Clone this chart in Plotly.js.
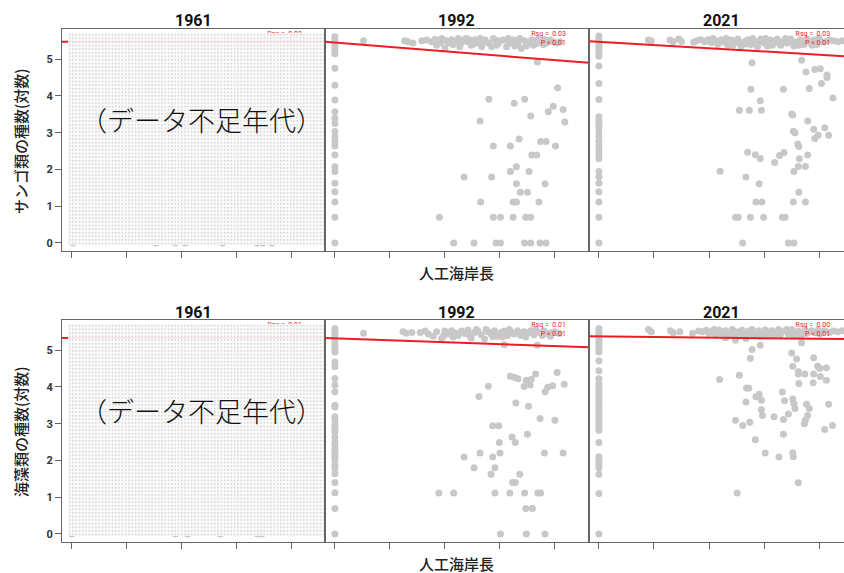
<!DOCTYPE html>
<html><head><meta charset="utf-8">
<script src="https://cdn.plot.ly/plotly-3.0.1.min.js"></script>
<style>html,body{margin:0;padding:0;background:#fff}#chart{width:844px;height:573px}</style>
</head><body><div id="chart"></div>
<script>
// ---------------- data (x: 人工海岸長, y: ln 種数) ----------------
const years = ["1961", "1992", "2021"];
const xTicks = [0, 1, 2, 3, 4];
const yTicks = [0, 1, 2, 3, 4, 5];
const rowTitles = ["サンゴ類の種数(対数)", "海藻類の種数(対数)"];
const xTitle = "人工海岸長";
const shortageLabel = "（データ不足年代）";

// coral (サンゴ類)
const coral1961 = [[0.02,0],[1.53,0],[1.89,0],[2.07,0],[2.75,0],[3.38,0],[3.49,0],[3.65,0]];
const coral1992 = [
 [0,5.61],[0,5.52],[0,5.43],[0,5.34],[0,5.25],[0,5.15],[0,4.75],[0,4.29],[0,3.89],[0,3.57],[0,3.39],[0,3.25],
 [0,3.03],[0,2.89],[0,2.75],[0,2.64],[0,2.39],[0,2.07],[0,1.94],[0,1.62],[0,1.39],[0,1.11],[0,0.70],[0,0],
 [0.52,5.50],[1.27,5.50],[1.33,5.47],[1.42,5.44],[1.58,5.50],[1.67,5.52],[1.76,5.47],[1.82,5.54],[1.85,5.38],
 [1.92,5.44],[1.94,5.56],[1.97,5.52],[2.00,5.29],[2.03,5.50],[2.06,5.44],[2.12,5.53],[2.15,5.40],[2.18,5.47],
 [2.24,5.56],[2.27,5.34],[2.30,5.44],[2.33,5.52],[2.39,5.56],[2.42,5.47],[2.45,5.52],[2.48,5.38],[2.52,5.41],
 [2.55,5.53],[2.61,5.44],[2.64,5.56],[2.67,5.34],[2.70,5.47],[2.73,5.52],[2.79,5.44],[2.85,5.34],[2.88,5.56],
 [2.91,5.53],[2.94,5.38],[2.97,5.43],[3.00,5.50],[3.06,5.52],[3.12,5.34],[3.15,5.56],[3.18,5.44],[3.24,5.53],
 [3.27,5.36],[3.30,5.50],[3.33,5.41],[3.36,5.56],[3.39,5.29],[3.45,5.50],[3.48,5.36],[3.52,5.43],[3.55,5.47],
 [3.58,5.52],[3.61,5.38],[3.67,5.43],[3.70,5.55],[3.76,5.47],[3.79,5.40],[3.82,5.53],[3.85,5.44],[3.91,5.52],
 [3.97,5.47],[4.03,5.44],[4.09,5.47],
 [3.68,4.92],[4.05,4.22],[2.80,3.91],[3.26,3.80],[3.45,3.91],[3.97,3.72],[3.88,3.57],[4.15,3.63],[3.56,3.45],
 [4.18,3.29],[2.64,3.32],[3.35,2.83],[3.74,2.76],[3.84,2.76],[2.88,2.64],[3.19,2.64],[4.01,2.64],[3.58,2.39],
 [3.67,2.39],[3.30,2.07],[3.19,1.94],[3.53,1.94],[2.35,1.79],[2.85,1.79],[3.30,1.61],[3.82,1.61],[3.37,1.38],
 [3.50,1.38],[2.65,1.11],[3.24,1.11],[3.30,1.11],[3.71,1.11],[1.90,0.70],[2.88,0.70],[3.01,0.70],[3.24,0.70],
 [3.47,0.70],[3.56,0.70],[2.16,0],[2.53,0],[2.93,0],[3.01,0],[3.45,0],[3.56,0],[3.73,0],[3.84,0]
];
const coral2021 = [
 [0,5.63],[0,5.53],[0,5.44],[0,5.35],[0,5.26],[0,5.17],[0,5.08],[0,4.81],[0,4.34],[0,3.90],[0,3.43],[0,3.34],
 [0,3.25],[0,3.16],[0,3.03],[0,2.89],[0,2.75],[0,2.64],[0,2.53],[0,2.42],[0,2.30],[0,1.94],[0,1.80],[0,1.62],
 [0,1.39],[0,1.11],[0,0.70],[0,0],
 [0.90,5.52],[0.95,5.50],[1.29,5.52],[1.35,5.47],[1.45,5.55],[1.50,5.48],[1.72,5.46],[1.78,5.50],[1.85,5.53],
 [1.92,5.47],[1.98,5.53],[2.04,5.45],[2.07,5.56],[2.10,5.52],[2.16,5.40],[2.19,5.47],[2.22,5.53],[2.28,5.46],
 [2.31,5.56],[2.34,5.38],[2.40,5.52],[2.43,5.38],[2.46,5.44],[2.52,5.55],[2.55,5.46],[2.58,5.36],[2.64,5.47],
 [2.67,5.41],[2.70,5.53],[2.76,5.40],[2.79,5.56],[2.82,5.50],[2.88,5.34],[2.91,5.47],[2.94,5.55],[3.00,5.44],
 [3.03,5.56],[3.06,5.36],[3.12,5.52],[3.15,5.38],[3.18,5.44],[3.24,5.55],[3.27,5.47],[3.30,5.38],[3.36,5.50],
 [3.39,5.56],[3.42,5.44],[3.48,5.55],[3.51,5.47],[3.54,5.36],[3.60,5.47],[3.63,5.38],[3.66,5.52],[3.72,5.40],
 [3.75,5.47],[3.78,5.55],[3.84,5.46],[3.87,5.38],[3.90,5.52],[3.96,5.40],[3.99,5.56],[4.02,5.50],[4.10,5.47],
 [4.18,5.52],[4.26,5.50],[4.34,5.47],[4.42,5.50],
 [2.78,4.90],[3.68,4.97],[3.76,4.65],[3.92,4.72],[4.02,4.74],[4.14,4.57],[4.14,4.50],[4.04,4.34],[3.82,4.20],
 [4.25,3.94],[2.76,4.18],[3.35,4.18],[2.93,3.87],[2.55,3.61],[2.73,3.61],[2.95,3.61],[3.50,3.51],[3.52,3.48],
 [3.79,3.32],[3.90,3.09],[4.10,3.13],[3.98,2.93],[3.92,2.84],[4.17,2.93],[3.53,3.04],[3.56,3.00],[3.61,2.69],
 [3.63,2.62],[2.70,2.47],[2.84,2.40],[2.93,2.30],[3.28,2.38],[3.36,2.46],[3.19,2.19],[3.64,2.29],[3.79,2.39],
 [3.62,2.08],[3.75,2.08],[3.54,1.94],[2.20,1.95],[2.67,1.79],[2.91,1.61],[3.63,1.38],[2.85,1.11],[2.96,1.11],
 [3.53,1.11],[3.75,1.11],[2.48,0.70],[2.53,0.70],[2.75,0.70],[2.99,0.70],[3.33,0.70],[3.38,0.70],[2.61,0],
 [3.44,0],[3.54,0]
];

// algae (海藻類)
const algae1961 = [[0,0],[1.89,0],[2.11,0],[2.71,0],[3.38,0],[3.47,0]];
const algae1992 = [
 [0,5.59],[0,5.50],[0,5.41],[0,5.32],[0,5.23],[0,5.14],[0,5.05],[0,4.95],[0,4.68],[0,4.55],[0,4.23],[0,4.05],
 [0,3.87],[0,3.50],[0,3.45],[0,3.19],[0,3.09],[0,2.96],[0,2.87],[0,2.78],[0,2.64],[0,2.50],[0,2.41],[0,2.28],
 [0,2.19],[0,2.10],[0,2.01],[0,1.87],[0,1.78],[0,1.64],[0,1.40],[0,1.12],[0,0.69],[0,0],
 [0.52,5.46],[1.24,5.50],[1.30,5.46],[1.40,5.48],[1.55,5.48],[1.64,5.52],[1.70,5.44],[1.79,5.38],[1.85,5.50],
 [1.94,5.32],[1.98,5.40],[2.00,5.52],[2.06,5.44],[2.12,5.53],[2.15,5.36],[2.18,5.47],[2.24,5.40],[2.30,5.52],
 [2.36,5.45],[2.42,5.55],[2.45,5.40],[2.48,5.33],[2.54,5.48],[2.57,5.56],[2.60,5.52],[2.66,5.42],[2.72,5.30],
 [2.75,5.56],[2.78,5.50],[2.84,5.44],[2.87,5.37],[2.90,5.53],[2.96,5.38],[3.02,5.48],[3.05,5.36],[3.08,5.52],
 [3.14,5.40],[3.17,5.56],[3.20,5.50],[3.26,5.44],[3.32,5.53],[3.35,5.47],[3.38,5.40],[3.44,5.50],[3.47,5.36],
 [3.50,5.46],[3.56,5.53],[3.62,5.42],[3.65,5.56],[3.68,5.50],[3.74,5.47],[3.77,5.40],[3.80,5.53],[3.86,5.45],
 [3.92,5.38],[3.93,5.47],[4.00,5.50],[4.08,5.45],
 [3.08,5.15],[3.68,5.13],[3.19,4.29],[3.26,4.26],[3.33,4.22],[3.48,4.18],[3.57,4.21],[3.65,4.35],[4.04,4.39],
 [3.44,4.01],[3.55,4.05],[3.87,3.99],[3.96,4.03],[4.17,4.07],[2.79,4.02],[3.82,3.87],[2.62,3.74],[3.29,3.56],
 [3.52,3.47],[3.73,3.14],[4.00,3.09],[2.87,2.94],[2.98,2.94],[3.22,2.64],[3.28,2.49],[3.50,2.71],[2.99,2.49],
 [2.35,2.09],[2.64,2.20],[2.87,2.09],[3.00,2.20],[3.81,2.20],[4.15,2.20],[2.53,1.80],[2.91,1.80],[2.84,1.62],
 [3.36,1.62],[3.23,1.40],[3.28,1.40],[1.89,1.11],[2.16,1.11],[2.91,1.11],[3.18,1.11],[3.45,1.11],[3.69,1.11],
 [3.74,1.11],[3.47,0.69],[3.59,0.69],[3.01,0],[3.48,0],[3.82,0]
];
const algae2021 = [
 [0,5.59],[0,5.50],[0,5.41],[0,5.32],[0,5.23],[0,5.14],[0,5.05],[0,4.95],[0,4.71],[0,4.44],[0,4.22],[0,4.09],
 [0,4.00],[0,3.91],[0,3.82],[0,3.73],[0,3.64],[0,3.55],[0,3.46],[0,3.37],[0,3.28],[0,3.19],[0,3.09],[0,3.00],
 [0,2.91],[0,2.82],[0,2.49],[0,2.10],[0,2.01],[0,1.91],[0,1.80],[0,1.62],[0,1.10],[0,0],
 [0.90,5.56],[0.95,5.50],[1.30,5.53],[1.35,5.47],[1.47,5.50],[1.70,5.46],[1.81,5.52],[1.88,5.50],[1.95,5.54],
 [2.00,5.46],[2.06,5.52],[2.09,5.56],[2.12,5.42],[2.18,5.55],[2.21,5.46],[2.24,5.48],[2.30,5.53],[2.30,5.34],
 [2.33,5.40],[2.36,5.44],[2.42,5.56],[2.45,5.52],[2.48,5.40],[2.48,5.27],[2.54,5.50],[2.57,5.45],[2.60,5.54],
 [2.66,5.44],[2.67,5.32],[2.69,5.40],[2.72,5.52],[2.78,5.56],[2.81,5.40],[2.84,5.47],[2.90,5.53],[2.93,5.38],
 [2.96,5.42],[3.02,5.55],[3.05,5.42],[3.08,5.48],[3.14,5.53],[3.17,5.40],[3.20,5.44],[3.26,5.56],[3.29,5.42],
 [3.32,5.50],[3.38,5.53],[3.41,5.56],[3.44,5.44],[3.50,5.56],[3.53,5.40],[3.56,5.48],[3.62,5.52],[3.65,5.38],
 [3.68,5.42],[3.74,5.55],[3.77,5.45],[3.80,5.48],[3.86,5.53],[3.92,5.47],[3.98,5.55],[4.01,5.44],[4.04,5.50],
 [4.10,5.53],[4.18,5.48],[4.26,5.52],[4.34,5.50],[4.42,5.53],
 [3.68,5.20],[2.78,5.02],[2.93,5.13],[2.75,4.78],[3.50,4.92],[3.59,4.76],[3.90,4.79],[3.97,4.56],[4.01,4.51],
 [4.13,4.52],[3.52,4.56],[3.62,4.41],[3.62,4.35],[3.74,4.35],[3.90,4.35],[4.02,4.28],[4.13,4.18],[3.89,4.11],
 [3.63,4.09],[2.55,4.32],[2.19,4.20],[2.68,3.97],[2.72,3.96],[3.33,3.86],[2.85,3.73],[2.91,3.80],[2.95,3.64],
 [2.67,3.59],[3.37,3.62],[3.52,3.67],[3.54,3.55],[3.77,3.53],[3.82,3.41],[4.17,3.53],[3.56,3.41],[2.95,3.38],
 [2.97,3.22],[3.18,3.19],[3.35,3.11],[3.44,3.26],[3.79,3.22],[3.75,3.09],[3.73,3.00],[2.48,3.09],[2.61,2.95],
 [2.74,3.04],[4.10,2.84],[4.24,2.95],[3.35,2.71],[2.84,2.56],[3.02,2.20],[3.27,2.09],[3.52,2.21],[3.53,2.10],
 [3.62,1.39],[2.51,1.11]
];

// regression lines (value at left / right end of each panel's x range)
const fitX = [[-0.18, 4.62], [-0.18, 4.62], [-0.18, 4.45]];
const coralFit = [[5.47, 5.48], [5.47, 4.90], [5.49, 5.08]];
const algaeFit = [[5.33, 5.33], [5.33, 5.08], [5.38, 5.30]];
const coralStats = ["Rsq =  0.03<br>P < 0.01", "Rsq =  0.03<br>P < 0.01", "Rsq =  0.03<br>P < 0.01"];
const algaeStats = ["Rsq =  0.01<br>P < 0.01", "Rsq =  0.01<br>P < 0.01", "Rsq =  0.00<br>P < 0.01"];

// ---------------- layout helpers ----------------
const W = 844, H = 573;
const colPx = [[62, 325], [325, 589], [589, 844]];
const rowPx = [[29, 251], [320, 542]];
const xRange = [[-0.18, 4.62], [-0.18, 4.62], [-0.18, 4.45]];
const yRange = [-0.22, 5.82];
const frame = "#666666";
const ptColor = "#c8c8c8";
const lineRed = "#ee1c25";
const numFont = "Roboto, Noto Sans, sans-serif";
const smallFont = "Roboto, Noto Sans, sans-serif";
const jpFont = "Noto Sans CJK JP, Noto Sans CJK SC, sans-serif";

const rows = [
  {pts: [coral1961, coral1992, coral2021], fit: coralFit, stats: coralStats},
  {pts: [algae1961, algae1992, algae2021], fit: algaeFit, stats: algaeStats}
];

const traces = [];
const layout = {
  width: W, height: H, margin: {l: 0, r: 0, t: 0, b: 0},
  paper_bgcolor: "#fff", plot_bgcolor: "#fff", showlegend: false,
  annotations: [], images: []
};

rows.forEach((row, r) => {
  const dy = [1 - rowPx[r][1] / H, 1 - rowPx[r][0] / H];
  for (let c = 0; c < 3; c++) {
    const n = r * 3 + c + 1;
    const xa = n === 1 ? "x" : "x" + n;
    const ya = n === 1 ? "y" : "y" + n;
    const xk = n === 1 ? "xaxis" : "xaxis" + n;
    const yk = n === 1 ? "yaxis" : "yaxis" + n;
    layout[xk] = {
      domain: [colPx[c][0] / W, colPx[c][1] / W], anchor: ya, range: xRange[c],
      showgrid: false, zeroline: false, showline: true, mirror: true,
      linecolor: frame, linewidth: 1, ticks: "outside", tickvals: xTicks,
      ticklen: 6, tickcolor: frame, showticklabels: false, fixedrange: true
    };
    layout[yk] = {
      domain: dy, anchor: xa, range: yRange,
      showgrid: false, zeroline: false, showline: true, mirror: c < 2,
      linecolor: frame, linewidth: 1,
      ticks: c === 0 ? "outside" : "", tickvals: yTicks, ticklen: 6, tickcolor: frame,
      showticklabels: c === 0,
      tickfont: {family: numFont, size: 11, color: "#333", weight: "bold"}, fixedrange: true
    };
    traces.push({
      type: "scatter", mode: "markers", xaxis: xa, yaxis: ya,
      x: row.pts[c].map(p => p[0]), y: row.pts[c].map(p => p[1]),
      marker: {color: ptColor, size: 7, line: {width: 0}}, cliponaxis: true
    });
    traces.push({
      type: "scatter", mode: "lines", xaxis: xa, yaxis: ya,
      x: fitX[c], y: row.fit[c], line: {color: lineRed, width: 2}
    });
    traces.push({
      type: "scatter", mode: "text", xaxis: xa, yaxis: ya,
      x: [4.2], y: [5.56], text: [row.stats[c]], textposition: "middle left",
      textfont: {family: smallFont, size: 7, color: lineRed},
      cliponaxis: false
    });
    // strip title (year)
    layout.annotations.push({
      xref: "paper", yref: "paper",
      x: ((colPx[c][0] + (c === 2 ? 853 : colPx[c][1])) / 2) / W,
      y: 1 - (rowPx[r][0] - 8) / H,
      text: years[c], showarrow: false, xanchor: "center", yanchor: "middle",
      font: {family: numFont, size: 16, color: "#111", weight: "bold"}
    });
  }
  // data-shortage overlay on the 1961 panel
  const ovW = 256, ovH = 212;
  const svg = "<svg xmlns='http://www.w3.org/2000/svg' width='" + ovW + "' height='" + ovH + "' viewBox='0 0 " + ovW + " " + ovH + "'>" +
    "<defs><pattern id='d' width='3.3' height='3.6' patternUnits='userSpaceOnUse'>" +
    "<rect x='0.9' y='1' width='1.3' height='1.3' fill='#c6c6c6'/></pattern></defs>" +
    "<rect width='" + ovW + "' height='" + ovH + "' fill='#fafafa' fill-opacity='0.94'/>" +
    "<rect width='" + ovW + "' height='" + ovH + "' fill='url(#d)'/></svg>";
  layout.images.push({
    source: "data:image/svg+xml;charset=utf-8," + encodeURIComponent(svg),
    xref: "paper", yref: "paper", x: 68 / W, y: 1 - (rowPx[r][0] + 4) / H,
    sizex: ovW / W, sizey: ovH / H, xanchor: "left", yanchor: "top",
    sizing: "stretch", layer: "above"
  });
  layout.annotations.push({
    xref: "paper", yref: "paper", x: 201 / W, y: 1 - (rowPx[r][0] + 90) / H,
    text: shortageLabel, showarrow: false, xanchor: "center", yanchor: "middle",
    font: {family: jpFont, size: 27, color: "#111", weight: 300}
  });
  // y title
  layout.annotations.push({
    xref: "paper", yref: "paper", x: 20 / W, y: 1 - (rowPx[r][0] + 112) / H,
    text: rowTitles[r], showarrow: false, textangle: -90, xanchor: "center", yanchor: "middle",
    font: {family: jpFont, size: 15, color: "#222", weight: 500}
  });
  // x title
  layout.annotations.push({
    xref: "paper", yref: "paper", x: 456 / W, y: 1 - (rowPx[r][1] + 21) / H,
    text: xTitle, showarrow: false, xanchor: "center", yanchor: "middle",
    font: {family: jpFont, size: 15, color: "#222", weight: 500}
  });
});

Plotly.newPlot("chart", traces, layout, {staticPlot: true, displayModeBar: false});
</script></body></html>
